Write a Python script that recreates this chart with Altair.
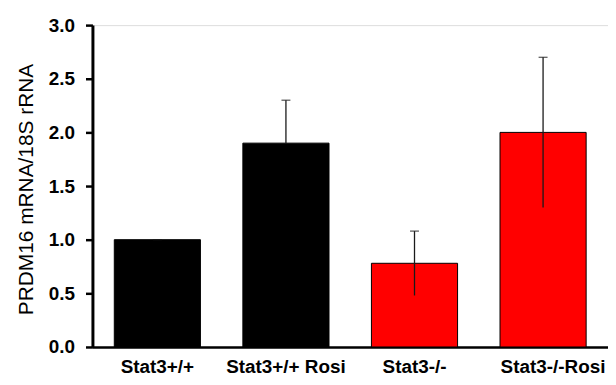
import altair as alt
import pandas as pd

groups = ["Stat3+/+", "Stat3+/+ Rosi", "Stat3-/-", "Stat3-/-Rosi"]
values = [1.0, 1.9, 0.78, 2.0]
err_low = [1.0, 1.9, 0.48, 1.3]
err_high = [1.0, 2.3, 1.08, 2.7]
colors = ["#000000", "#000000", "#FF0000", "#FF0000"]

df = pd.DataFrame({"group": groups, "value": values, "low": err_low,
                   "high": err_high, "color": colors})

FONT = "Liberation Sans"

x = alt.X("group:N", sort=groups,
          scale=alt.Scale(paddingInner=0.33, paddingOuter=0.17),
          axis=alt.Axis(title=None, labelAngle=0, ticks=False,
                        labelFont=FONT, labelFontSize=19, labelFontWeight="bold",
                        labelColor="black", labelPadding=11,
                        labelOffset={"condition": {"test": "datum.value == 'Stat3-/-Rosi'", "value": 10}, "value": 0},
                        domainColor="#000000", domainWidth=2.5, domainOpacity=1))

bars = alt.Chart(df).mark_bar(stroke="black", strokeWidth=1).encode(
    x=x,
    y=alt.Y("value:Q", scale=alt.Scale(domain=[0, 3]),
            axis=alt.Axis(title="PRDM16 mRNA/18S rRNA", values=[0, 0.5, 1, 1.5, 2, 2.5, 3],
                          format=".1f", grid=False, tickSize=7, tickWidth=2.5,
                          tickColor="black", domainColor="#000000", domainWidth=3,
                          domainOpacity=1,
                          labelFont=FONT, labelFontSize=19, labelFontWeight="bold",
                          labelColor="black", labelPadding=11,
                          titleFont=FONT, titleFontSize=21, titleFontWeight="normal",
                          titleColor="black", titleX=-60, titleY=165,
                          titleAngle=270, titleAlign="center", titleBaseline="alphabetic")),
    color=alt.Color("color:N", scale=None),
)

rules = alt.Chart(df).mark_rule(color="#1a1a1a", strokeWidth=1.3).encode(
    x=alt.X("group:N", sort=groups), y="low:Q", y2="high:Q")

caps = alt.Chart(df).mark_tick(color="#1a1a1a", thickness=1.3, size=9,
                               orient="horizontal").encode(
    x=alt.X("group:N", sort=groups), y="high:Q")

chart = alt.layer(bars, rules, caps).properties(
    width=519, height=324,
    autosize=alt.AutoSizeParams(type="none"),
    padding={"left": 85, "top": 16, "right": 0, "bottom": 29},
).configure_view(stroke=None).configure(background="white").configure_axis(
    domainColor="#000000", tickColor="#000000")

chart.save("out.html", embed_options={"renderer": "svg", "actions": False})
